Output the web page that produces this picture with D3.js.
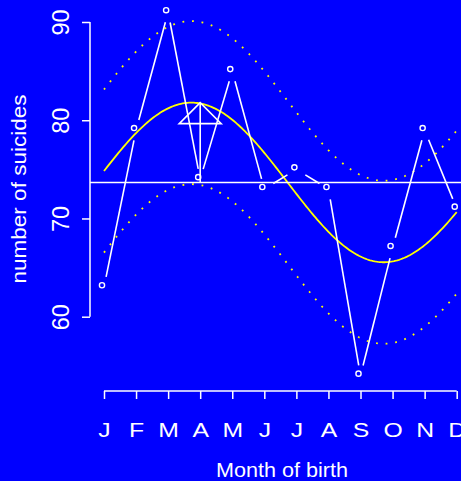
<!DOCTYPE html>
<html>
<head>
<meta charset="utf-8">
<script src="https://cdn.jsdelivr.net/npm/d3@7"></script>
<style>
  html, body { margin: 0; padding: 0; background: #0000ff; }
  svg { display: block; }
  text { font-family: "Liberation Sans", Arial, Helvetica, sans-serif; fill: #ffffff; }
</style>
</head>
<body>
<svg id="chart" width="461" height="481"></svg>
<script>
// Monthly counts by month of birth
const months = ["J", "F", "M", "A", "M", "J", "J", "A", "S", "O", "N", "D"];
const suicides = [63, 79, 91, 74, 85, 73, 75, 73, 54, 67, 79, 71];
const yTicks = [60, 70, 80, 90];
const bandHalfWidth = 8.3;   // half-width of the dotted band around the fitted curve
const peakMarkerMonth = 4;   // month where the peak arrow is drawn

const W = 461, H = 481;
const svg = d3.select("#chart");
svg.append("rect").attr("width", W).attr("height", H).attr("fill", "#0000ff");

const monthIdx = months.map((_, i) => i + 1);
const x = d3.scaleLinear().domain([1, 12]).range([104, 456.7]);
const y = d3.scaleLinear().domain([60, 90]).range([316.7, 22]);

// Cosinor fit (period 12) by least squares on equally spaced months
const n = suicides.length;
const mesor = d3.mean(suicides);
const w = 2 * Math.PI / 12;
const bCos = 2 / n * d3.sum(suicides, (v, i) => v * Math.cos(w * (i + 1)));
const bSin = 2 / n * d3.sum(suicides, (v, i) => v * Math.sin(w * (i + 1)));
const amplitude = Math.hypot(bCos, bSin);
const fit = t => mesor + bCos * Math.cos(w * t) + bSin * Math.sin(w * t);
const tGrid = d3.range(1, 12.0001, 0.05);

const white = "#ffffff", yellow = "#ffff00";

// Axes
const yAxis = d3.axisLeft(y).tickValues(yTicks).tickSize(8).tickPadding(0).tickFormat(d3.format("d"));
const gy = svg.append("g").attr("transform", "translate(90,0)").call(yAxis);
gy.select(".domain").attr("d", `M0,${y(60)}V${y(90)}`).attr("stroke", white).attr("stroke-width", 1.5);
gy.selectAll(".tick line").attr("stroke", white).attr("stroke-width", 1.5);
gy.selectAll(".tick text")
  .attr("x", null).attr("dy", null)
  .attr("transform", "translate(-21.5,0) rotate(-90)")
  .attr("text-anchor", "middle")
  .attr("font-size", 23.5)
  .attr("fill", white);

const xAxis = d3.axisBottom(x).tickValues(monthIdx).tickSize(8).tickFormat(d => months[d - 1]);
const gx = svg.append("g").attr("transform", "translate(0,391)").call(xAxis);
gx.select(".domain").attr("d", `M${x(1)},0H${x(12)}`).attr("stroke", white).attr("stroke-width", 1.5);
gx.selectAll(".tick line").attr("stroke", white).attr("stroke-width", 1.5);
gx.selectAll(".tick text")
  .attr("y", null).attr("dy", null)
  .attr("transform", "translate(0,46.3) scale(1.18,1)")
  .attr("text-anchor", "middle")
  .attr("font-size", 21)
  .attr("fill", white);

// Axis titles
svg.append("text")
  .attr("x", 282).attr("y", 477)
  .attr("text-anchor", "middle")
  .attr("font-size", 20.5)
  .attr("textLength", 132).attr("lengthAdjust", "spacingAndGlyphs")
  .text("Month of birth");
svg.append("text")
  .attr("transform", "translate(26,189) rotate(-90)")
  .attr("text-anchor", "middle")
  .attr("font-size", 21)
  .attr("textLength", 189).attr("lengthAdjust", "spacingAndGlyphs")
  .text("number of suicides");

// Dotted band around the fit
const bandLine = off => d3.line().x(t => x(t)).y(t => y(fit(t) + off));
[bandHalfWidth, -bandHalfWidth].forEach(off => {
  svg.append("path")
    .attr("d", bandLine(off)(tGrid))
    .attr("fill", "none")
    .attr("stroke", yellow)
    .attr("stroke-width", 1.8)
    .attr("stroke-dasharray", "1.8,7.8");
});

// Fitted curve
svg.append("path")
  .attr("d", d3.line().x(t => x(t)).y(t => y(fit(t)))(tGrid))
  .attr("fill", "none")
  .attr("stroke", yellow)
  .attr("stroke-width", 1.8);

// Mean line
svg.append("line")
  .attr("x1", x(1) - 14).attr("x2", W)
  .attr("y1", y(mesor)).attr("y2", y(mesor))
  .attr("stroke", white).attr("stroke-width", 1.6);

// Peak arrow: shaft from mesor to peak with a closed 45° head
const ax = x(peakMarkerMonth), yBase = y(mesor), yTip = y(mesor + amplitude);
const head = 21;
svg.append("line")
  .attr("x1", ax).attr("x2", ax).attr("y1", yBase).attr("y2", yTip)
  .attr("stroke", white).attr("stroke-width", 1.6);
svg.append("path")
  .attr("d", `M${ax},${yTip}L${ax - head},${yTip + head}L${ax + head},${yTip + head}Z`)
  .attr("fill", "none").attr("stroke", white).attr("stroke-width", 1.6)
  .attr("stroke-linejoin", "miter");

// Observed counts: segments with gaps around each point
const pts = suicides.map((v, i) => [x(i + 1), y(v)]);
const gap = 10.5;
const segs = d3.pairs(pts).map(([a, b]) => {
  const dx = b[0] - a[0], dy = b[1] - a[1], len = Math.hypot(dx, dy);
  if (len <= 2 * gap) return null;
  const ux = dx / len, uy = dy / len;
  return [a[0] + ux * gap, a[1] + uy * gap, b[0] - ux * gap, b[1] - uy * gap];
}).filter(Boolean);
svg.append("g").selectAll("line").data(segs).join("line")
  .attr("x1", d => d[0]).attr("y1", d => d[1])
  .attr("x2", d => d[2]).attr("y2", d => d[3])
  .attr("stroke", white).attr("stroke-width", 1.6);

svg.append("g").attr("transform", "translate(-2,-2)")
  .selectAll("circle").data(suicides).join("circle")
  .attr("cx", (d, i) => x(i + 1)).attr("cy", d => y(d))
  .attr("r", 2.6)
  .attr("fill", "none").attr("stroke", white).attr("stroke-width", 1.4);
</script>
</body>
</html>
